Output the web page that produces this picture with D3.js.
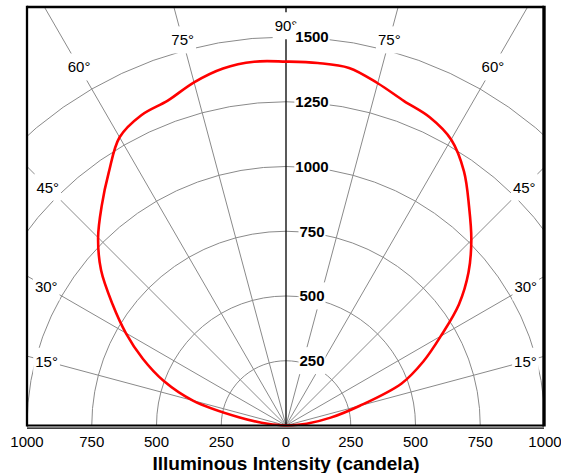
<!DOCTYPE html>
<html>
<head>
    <title>Illuminous Intensity</title>
    <script src="https://d3js.org/d3.v7.min.js"></script>
    <style>
        body {
            margin: 0;
            background-color: white;
            font-family: "Liberation Sans", Arial, sans-serif;
        }
    </style>
</head>
<body>
    <div id="chart"></div>
    <script>
        // Intensity distribution, angle measured from the right horizontal (0..180 deg)
        const curveAngles = [0, 5, 10, 15, 20, 25, 30, 35, 40, 45, 50, 55, 60, 65, 70, 75, 80, 85, 90,
                             95, 100, 105, 110, 115, 120, 125, 130, 135, 140, 145, 150, 155, 160, 165, 170, 175, 180];
        const curveCandela = [0, 80, 175, 295, 475, 585, 690, 815, 920, 1012, 1100, 1198, 1275, 1313, 1333, 1368, 1402, 1405, 1405,
                              1410, 1400, 1372, 1335, 1322, 1285, 1193, 1107, 1026, 932, 818, 714, 610, 502, 372, 185, 65, 0];

        const ringValues = [250, 500, 750, 1000, 1250, 1500];
        const spokeAngles = [0, 15, 30, 45, 60, 75, 90, 105, 120, 135, 150, 165, 180];
        const angleLabels = [15, 30, 45, 60, 75, 90];
        const angleLabelRadius = [957, 1069, 1301, 1598, 1541, 1543];
        const xTicks = [-1000, -750, -500, -250, 0, 250, 500, 750, 1000];

        const width = 561, height = 473;
        const box = {left: 27, right: 544, top: 7, bottom: 425.5};

        const svg = d3.select('#chart')
            .append('svg')
            .attr('width', width)
            .attr('height', height);

        const x = d3.scaleLinear().domain([-1000, 1000]).range([27, 545]);
        const r = d3.scaleLinear().domain([0, 1000]).range([0, x(1000) - x(0)]);
        const cx = x(0), cy = box.bottom;

        const rad = a => a * Math.PI / 180;
        const px = (a, v) => cx + r(v) * Math.cos(rad(a));
        const py = (a, v) => cy - r(v) * Math.sin(rad(a));

        svg.append('clipPath').attr('id', 'clip')
            .append('rect')
            .attr('x', box.left).attr('y', box.top)
            .attr('width', box.right - box.left).attr('height', box.bottom - box.top);

        const grid = svg.append('g').attr('clip-path', 'url(#clip)');

        // spokes
        grid.selectAll('line.spoke')
            .data(spokeAngles.filter(a => a !== 90))
            .enter()
            .append('line')
            .attr('x1', cx).attr('y1', cy)
            .attr('x2', d => px(d, 3000))
            .attr('y2', d => py(d, 3000))
            .attr('stroke', '#8a8a8a')
            .attr('stroke-width', 1);

        // rings, drawn as polylines
        const ringLine = d3.line().x(d => d[0]).y(d => d[1]);
        grid.selectAll('path.ring')
            .data(ringValues)
            .enter()
            .append('path')
            .attr('d', v => ringLine(d3.range(0, 181, 5).map(a => [px(a, v), py(a, v)])))
            .attr('fill', 'none')
            .attr('stroke', '#8a8a8a')
            .attr('stroke-width', 1);

        // vertical axis
        grid.append('line')
            .attr('x1', cx).attr('y1', cy)
            .attr('x2', cx).attr('y2', box.top)
            .attr('stroke', '#000')
            .attr('stroke-width', 1.3);

        // angle labels
        const angleItems = [];
        angleLabels.forEach((a, i) => {
            angleItems.push({a: a, text: a + '°', v: angleLabelRadius[i]});
            if (a !== 90) angleItems.push({a: 180 - a, text: a + '°', v: angleLabelRadius[i]});
        });
        const angleG = svg.append('g').selectAll('g')
            .data(angleItems)
            .enter()
            .append('g');
        angleG.append('rect').attr('fill', 'white');
        angleG.append('text')
            .attr('x', d => px(d.a, d.v))
            .attr('y', d => py(d.a, d.v) + 5.4)
            .attr('text-anchor', 'middle')
            .attr('font-size', 15)
            .attr('fill', '#000')
            .text(d => d.text);
        angleG.each(function() {
            const g = d3.select(this);
            const b = g.select('text').node().getBBox();
            g.select('rect')
                .attr('x', b.x - 2).attr('y', b.y - 5)
                .attr('width', b.width + 4).attr('height', b.height + 10);
        });

        // radial labels along the vertical axis
        const ringG = svg.append('g').selectAll('g')
            .data(ringValues)
            .enter()
            .append('g');
        ringG.append('rect').attr('fill', 'white');
        ringG.append('text')
            .attr('x', cx + 26)
            .attr('y', d => py(90, d) + 5.4)
            .attr('text-anchor', 'middle')
            .attr('font-size', 15)
            .attr('font-weight', 'bold')
            .attr('fill', '#000')
            .text(d => d);
        ringG.each(function() {
            const g = d3.select(this);
            const b = g.select('text').node().getBBox();
            g.select('rect')
                .attr('x', b.x - 1).attr('y', b.y - 5)
                .attr('width', b.width + 2).attr('height', b.height + 10);
        });

        // intensity curve
        const curveData = curveAngles.map((a, i) => [a, curveCandela[i]]);
        svg.append('path')
            .datum(curveData)
            .attr('d', d3.line()
                .x(d => px(d[0], d[1]))
                .y(d => py(d[0], d[1]))
                .curve(d3.curveCatmullRom))
            .attr('fill', 'none')
            .attr('stroke', '#ff0000')
            .attr('stroke-width', 2.6);

        // frame
        svg.append('line').attr('x1', box.left).attr('x2', box.left)
            .attr('y1', box.top - 1.2).attr('y2', box.bottom + 1)
            .attr('stroke', '#000').attr('stroke-width', 2.3);
        svg.append('line').attr('x1', box.right).attr('x2', box.right)
            .attr('y1', box.top - 1.2).attr('y2', box.bottom + 1)
            .attr('stroke', '#000').attr('stroke-width', 3.4);
        svg.append('line').attr('x1', box.left).attr('x2', box.right)
            .attr('y1', box.top).attr('y2', box.top)
            .attr('stroke', '#000').attr('stroke-width', 2.3);
        svg.append('line').attr('x1', box.left).attr('x2', box.right)
            .attr('y1', box.bottom).attr('y2', box.bottom)
            .attr('stroke', '#000').attr('stroke-width', 1.8);
        svg.append('line').attr('x1', box.left).attr('x2', box.right)
            .attr('y1', box.bottom + 2.6).attr('y2', box.bottom + 2.6)
            .attr('stroke', '#000').attr('stroke-width', 1.3);

        // bottom axis labels
        svg.append('g').selectAll('text')
            .data(xTicks)
            .enter()
            .append('text')
            .attr('x', d => x(d))
            .attr('y', 447)
            .attr('text-anchor', 'middle')
            .attr('font-size', 15)
            .attr('fill', '#000')
            .text(d => Math.abs(d));

        svg.append('text')
            .attr('x', cx)
            .attr('y', 470)
            .attr('text-anchor', 'middle')
            .attr('font-size', 19)
            .attr('font-weight', 'bold')
            .attr('fill', '#000')
            .text('Illuminous Intensity (candela)');
    </script>
</body>
</html>
